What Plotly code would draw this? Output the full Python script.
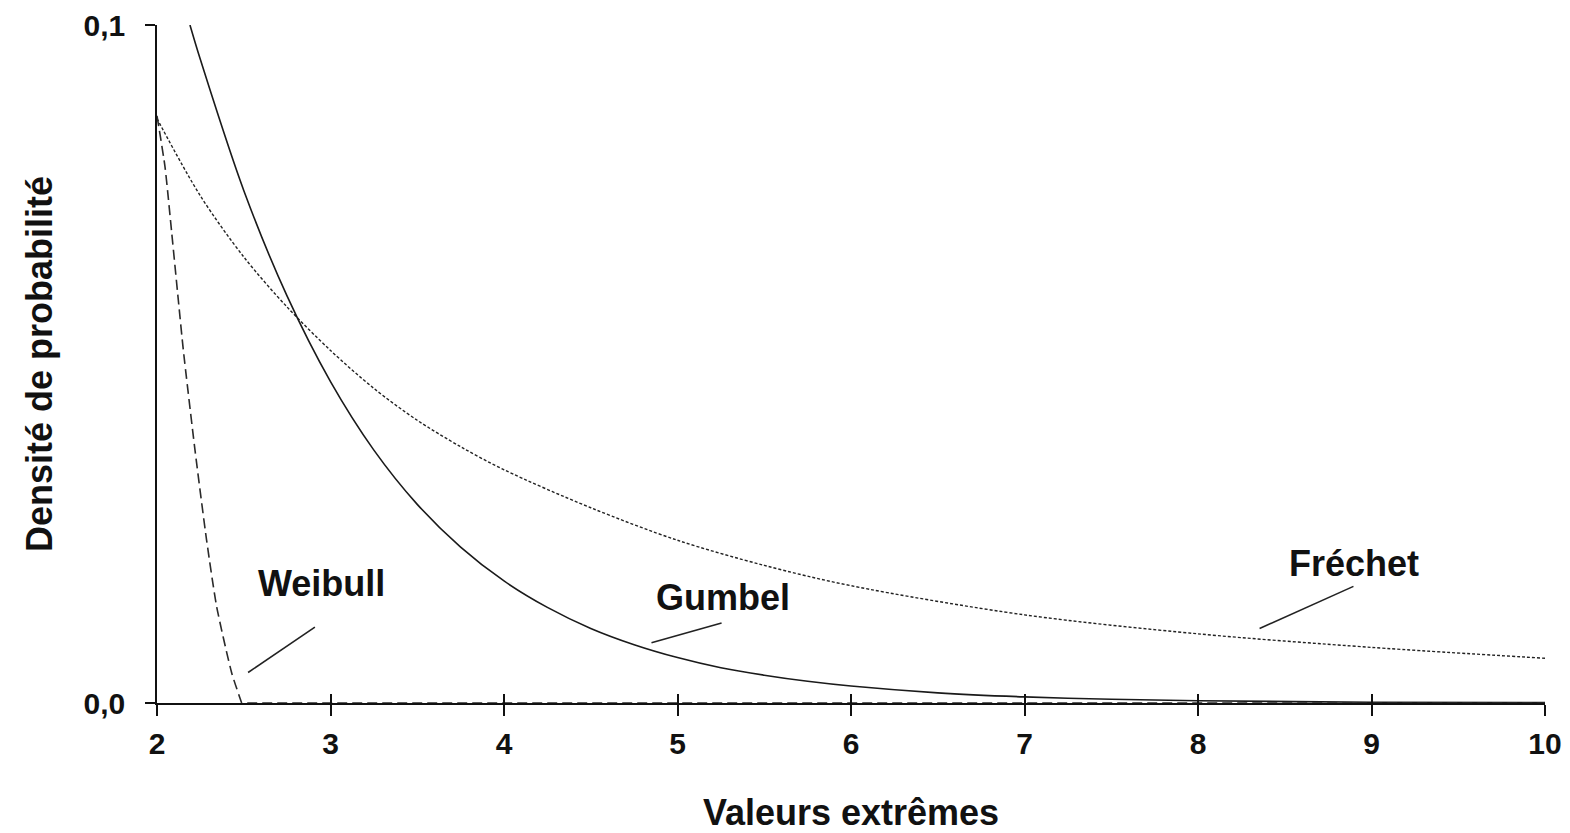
import plotly.graph_objects as go

# ---- data ----
gumbel_x = [2.19, 2.25, 2.5, 2.75, 3.0, 3.25, 3.5, 3.75, 4.0, 4.25, 4.5, 4.75, 5.0, 5.25, 5.5, 5.75,
            6.0, 6.5, 7.0, 7.5, 8.0, 9.0, 10.0]
gumbel_y = [0.1000, 0.0949, 0.0756, 0.0600, 0.0474, 0.0373, 0.0293, 0.0230, 0.0180, 0.0141, 0.0110,
            0.0086, 0.0067, 0.0052, 0.0041, 0.0032, 0.0025, 0.0015, 0.0009, 0.00055, 0.00034,
            0.00012, 0.00005]

frechet_x = [2.0, 2.25, 2.5, 2.75, 3.0, 3.25, 3.5, 3.75, 4.0, 4.5, 5.0, 5.5, 6.0, 7.0, 8.0, 9.0, 10.0]
frechet_y = [0.0862, 0.0748, 0.0658, 0.0584, 0.0520, 0.0464, 0.0417, 0.0378, 0.0344, 0.0288, 0.0240,
             0.0203, 0.0173, 0.0130, 0.0102, 0.0082, 0.0066]

weibull_x = [2.0, 2.046, 2.085, 2.123, 2.152, 2.219, 2.286, 2.344, 2.431, 2.488]
weibull_y = [0.0866, 0.0791, 0.0693, 0.0594, 0.0520, 0.0373, 0.0240, 0.0142, 0.0044, 0.0]
weibull_tail_x = [2.52, 10.0]
weibull_tail_y = [0.0, 0.0]

x_ticks = [2, 3, 4, 5, 6, 7, 8, 9, 10]
y_ticks = [0.0, 0.1]
y_tick_text = ["0,0", "0,1"]

labels = ["Weibull", "Gumbel", "Fréchet"]
label_pos_x = [2.95, 5.26, 8.90]
label_pos_y = [0.0176, 0.0156, 0.0206]
leader_start_x = [2.525, 4.85, 8.355]
leader_start_y = [0.0045, 0.0089, 0.0110]
leader_end_x = [2.91, 5.254, 8.896]
leader_end_y = [0.0112, 0.0118, 0.0172]

FONT = "Liberation Sans, Arial, sans-serif"
INK = "#111111"

fig = go.Figure()
fig.add_trace(go.Scatter(x=frechet_x, y=frechet_y, mode="lines",
                         line=dict(color="#222222", width=1.4, dash="3px,2px", shape="spline", smoothing=0.9),
                         showlegend=False))
fig.add_trace(go.Scatter(x=gumbel_x, y=gumbel_y, mode="lines",
                         line=dict(color="#1a1a1a", width=1.6, shape="spline", smoothing=0.9),
                         showlegend=False))
fig.add_trace(go.Scatter(x=weibull_x, y=weibull_y, mode="lines",
                         line=dict(color="#2a2a2a", width=1.6, dash="10px,5px", shape="spline", smoothing=0.6),
                         showlegend=False))
fig.add_trace(go.Scatter(x=weibull_tail_x, y=weibull_tail_y, mode="lines",
                         line=dict(color="#2a2a2a", width=1.6, dash="10px,5px"), showlegend=False))
# invisible trace for the overlay axes (inner half of crossing ticks)
fig.add_trace(go.Scatter(x=[2, 10], y=[0, 0.1], xaxis="x2", yaxis="y2", mode="markers",
                         marker=dict(opacity=0), showlegend=False, hoverinfo="skip"))

for i in range(len(labels)):
    fig.add_annotation(x=label_pos_x[i], y=label_pos_y[i], text="<b>%s</b>" % labels[i], showarrow=False,
                       font=dict(family=FONT, size=36, color=INK), xanchor="center", yanchor="middle")
    fig.add_shape(type="line", x0=leader_start_x[i], y0=leader_start_y[i], x1=leader_end_x[i], y1=leader_end_y[i],
                  line=dict(color="#222222", width=1.6))

tickfont = dict(family=FONT, size=30, color=INK, weight="bold")

fig.update_layout(
    width=1570, height=833,
    margin=dict(l=157, r=25, t=25, b=130),
    paper_bgcolor="white", plot_bgcolor="white",
    font=dict(family=FONT, color=INK),
    xaxis=dict(range=[2, 10], tickvals=x_ticks, ticks="outside", ticklen=11, tickwidth=1.6, tickcolor=INK,
               showline=True, linecolor=INK, linewidth=1.6, showgrid=False, zeroline=False, automargin=False,
               tickfont=tickfont, ticklabelstandoff=2,
               title=dict(text="<b>Valeurs extrêmes</b>", font=dict(family=FONT, size=36, color=INK), standoff=42)),
    yaxis=dict(range=[0, 0.1], tickvals=y_ticks, ticktext=y_tick_text, ticks="outside", ticklen=10, tickwidth=1.6,
               tickcolor=INK, showline=True, linecolor=INK, linewidth=1.6, showgrid=False, zeroline=False,
               automargin=False, tickfont=tickfont, ticklabelstandoff=14,
               title=dict(text="<b>Densité de probabilité</b>", font=dict(family=FONT, size=36, color=INK), standoff=20)),
    xaxis2=dict(range=[2, 10], overlaying="x", anchor="y", side="bottom", tickvals=x_ticks, ticks="inside", ticklen=9,
                tickwidth=1.6, tickcolor=INK, showticklabels=False, showgrid=False, zeroline=False, showline=False,
                automargin=False),
    yaxis2=dict(range=[0, 0.1], overlaying="y", anchor="x", side="left", tickvals=[0.1], ticks="inside", ticklen=10,
                tickwidth=1.6, tickcolor=INK, showticklabels=False, showgrid=False, zeroline=False, showline=False,
                automargin=False),
)

fig.write_html("out.html")
